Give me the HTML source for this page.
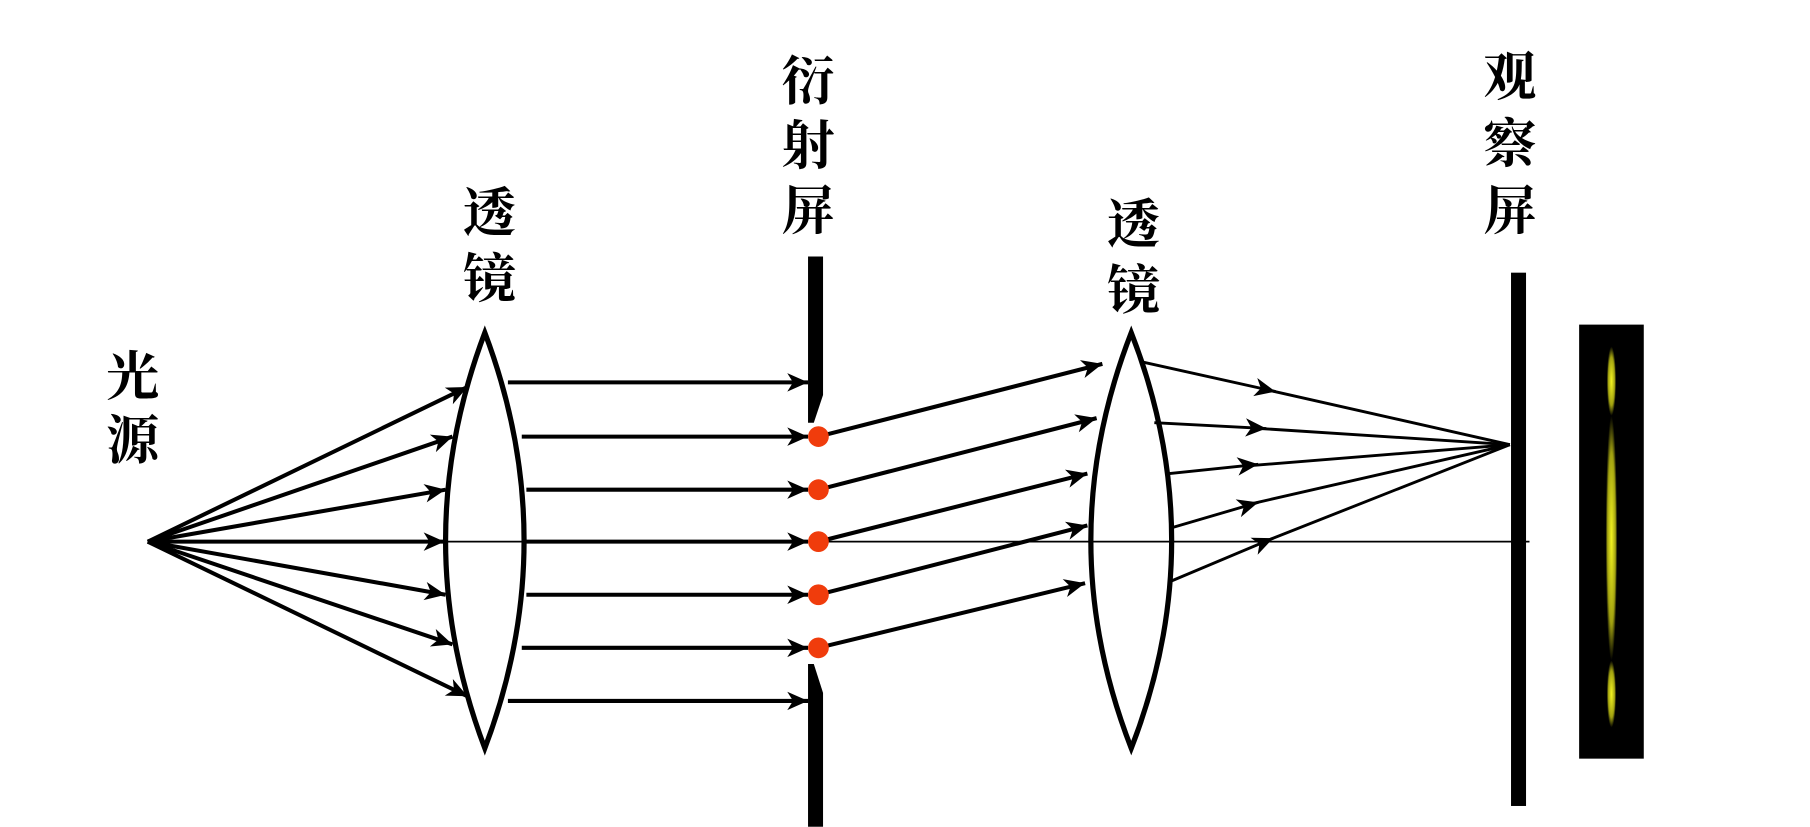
<!DOCTYPE html>
<html><head><meta charset="utf-8"><style>html,body{margin:0;padding:0;background:#fff}svg{display:block}</style></head><body>
<svg width="1810" height="827" viewBox="0 0 1568 716" xmlns="http://www.w3.org/2000/svg">
<defs>
<marker id="a" markerWidth="24" markerHeight="20" refX="20" refY="10" orient="auto" markerUnits="userSpaceOnUse">
<path d="M2,2 L20,10 L2,18 L7,10 Z" fill="#000"/>
</marker>
<radialGradient id="y" cx="0.5" cy="0.5" r="0.5">
<stop offset="0" stop-color="#f4f420"/><stop offset="0.7" stop-color="#a0a010"/><stop offset="1" stop-color="#000"/>
</radialGradient>
</defs>
<g font-family="'Liberation Serif','Noto Serif CJK SC',serif" font-size="46" font-weight="bold" text-anchor="middle" fill="#000">
<text x="115" y="342">光</text><text x="115" y="397">源</text>
<text x="424" y="200">透</text><text x="424" y="257">镜</text>
<text x="700" y="86">衍</text><text x="700" y="142">射</text><text x="700" y="198">屏</text>
<text x="982" y="210">透</text><text x="982" y="267">镜</text>
<text x="1308" y="82">观</text><text x="1308" y="140">察</text><text x="1308" y="198">屏</text>
</g>
<line x1="128" y1="469" x2="1325" y2="469" stroke="#000" stroke-width="1.5"/>
<g stroke="#000" stroke-width="3.5" fill="none" marker-end="url(#a)">
<line x1="128" y1="469" x2="405" y2="335"/>
<line x1="128" y1="469" x2="392" y2="378"/>
<line x1="128" y1="469" x2="386" y2="424"/>
<line x1="128" y1="469" x2="385" y2="469"/>
<line x1="128" y1="469" x2="386" y2="515"/>
<line x1="128" y1="469" x2="392" y2="558"/>
<line x1="128" y1="469" x2="405" y2="603"/>
<line x1="440" y1="331" x2="700" y2="331"/>
<line x1="452" y1="378" x2="700" y2="378"/>
<line x1="456" y1="424" x2="700" y2="424"/>
<line x1="456" y1="469" x2="700" y2="469"/>
<line x1="456" y1="515" x2="700" y2="515"/>
<line x1="452" y1="561" x2="700" y2="561"/>
<line x1="440" y1="607" x2="700" y2="607"/>
<line x1="709" y1="378" x2="955" y2="315"/>
<line x1="709" y1="424" x2="950" y2="362"/>
<line x1="709" y1="469" x2="942" y2="410"/>
<line x1="709" y1="515" x2="942" y2="455"/>
<line x1="709" y1="561" x2="940" y2="505"/>
</g>
<g stroke="#000" stroke-width="2.5" fill="none" marker-end="url(#a)">
<line x1="988" y1="313" x2="1105" y2="339"/>
<line x1="1000" y1="366" x2="1097" y2="371"/>
<line x1="1013" y1="410" x2="1090" y2="402"/>
<line x1="1015" y1="457" x2="1090" y2="435"/>
<line x1="1015" y1="503" x2="1103" y2="466"/>
</g>
<g stroke="#000" stroke-width="2.5">
<line x1="1100" y1="338" x2="1308" y2="385"/>
<line x1="1092" y1="371" x2="1308" y2="385"/>
<line x1="1085" y1="403" x2="1308" y2="385"/>
<line x1="1085" y1="436" x2="1308" y2="385"/>
<line x1="1098" y1="468" x2="1308" y2="385"/>
</g>
<path d="M420,288 Q352,468 420,648 Q488,468 420,288 Z" fill="none" stroke="#000" stroke-width="4.5"/>
<path d="M980,288 Q910,468 980,648 Q1050,468 980,288 Z" fill="none" stroke="#000" stroke-width="4.5"/>
<polygon points="700,222 713,222 713,342 705,366 700,366" fill="#000"/>
<polygon points="700,575 705,575 713,600 713,716 700,716" fill="#000"/>
<rect x="1309" y="236" width="13" height="462" fill="#000"/>
<g fill="#f03c0c">
<circle cx="709" cy="378" r="9"/><circle cx="709" cy="424" r="9"/><circle cx="709" cy="469" r="9"/><circle cx="709" cy="515" r="9"/><circle cx="709" cy="561" r="9"/>
</g>
<rect x="1368" y="281" width="56" height="376" fill="#000"/>
<ellipse cx="1396" cy="330" rx="4" ry="30" fill="url(#y)"/>
<ellipse cx="1396" cy="466" rx="5" ry="106" fill="url(#y)"/>
<ellipse cx="1396" cy="601" rx="4" ry="29" fill="url(#y)"/>
</svg>
</body></html>
